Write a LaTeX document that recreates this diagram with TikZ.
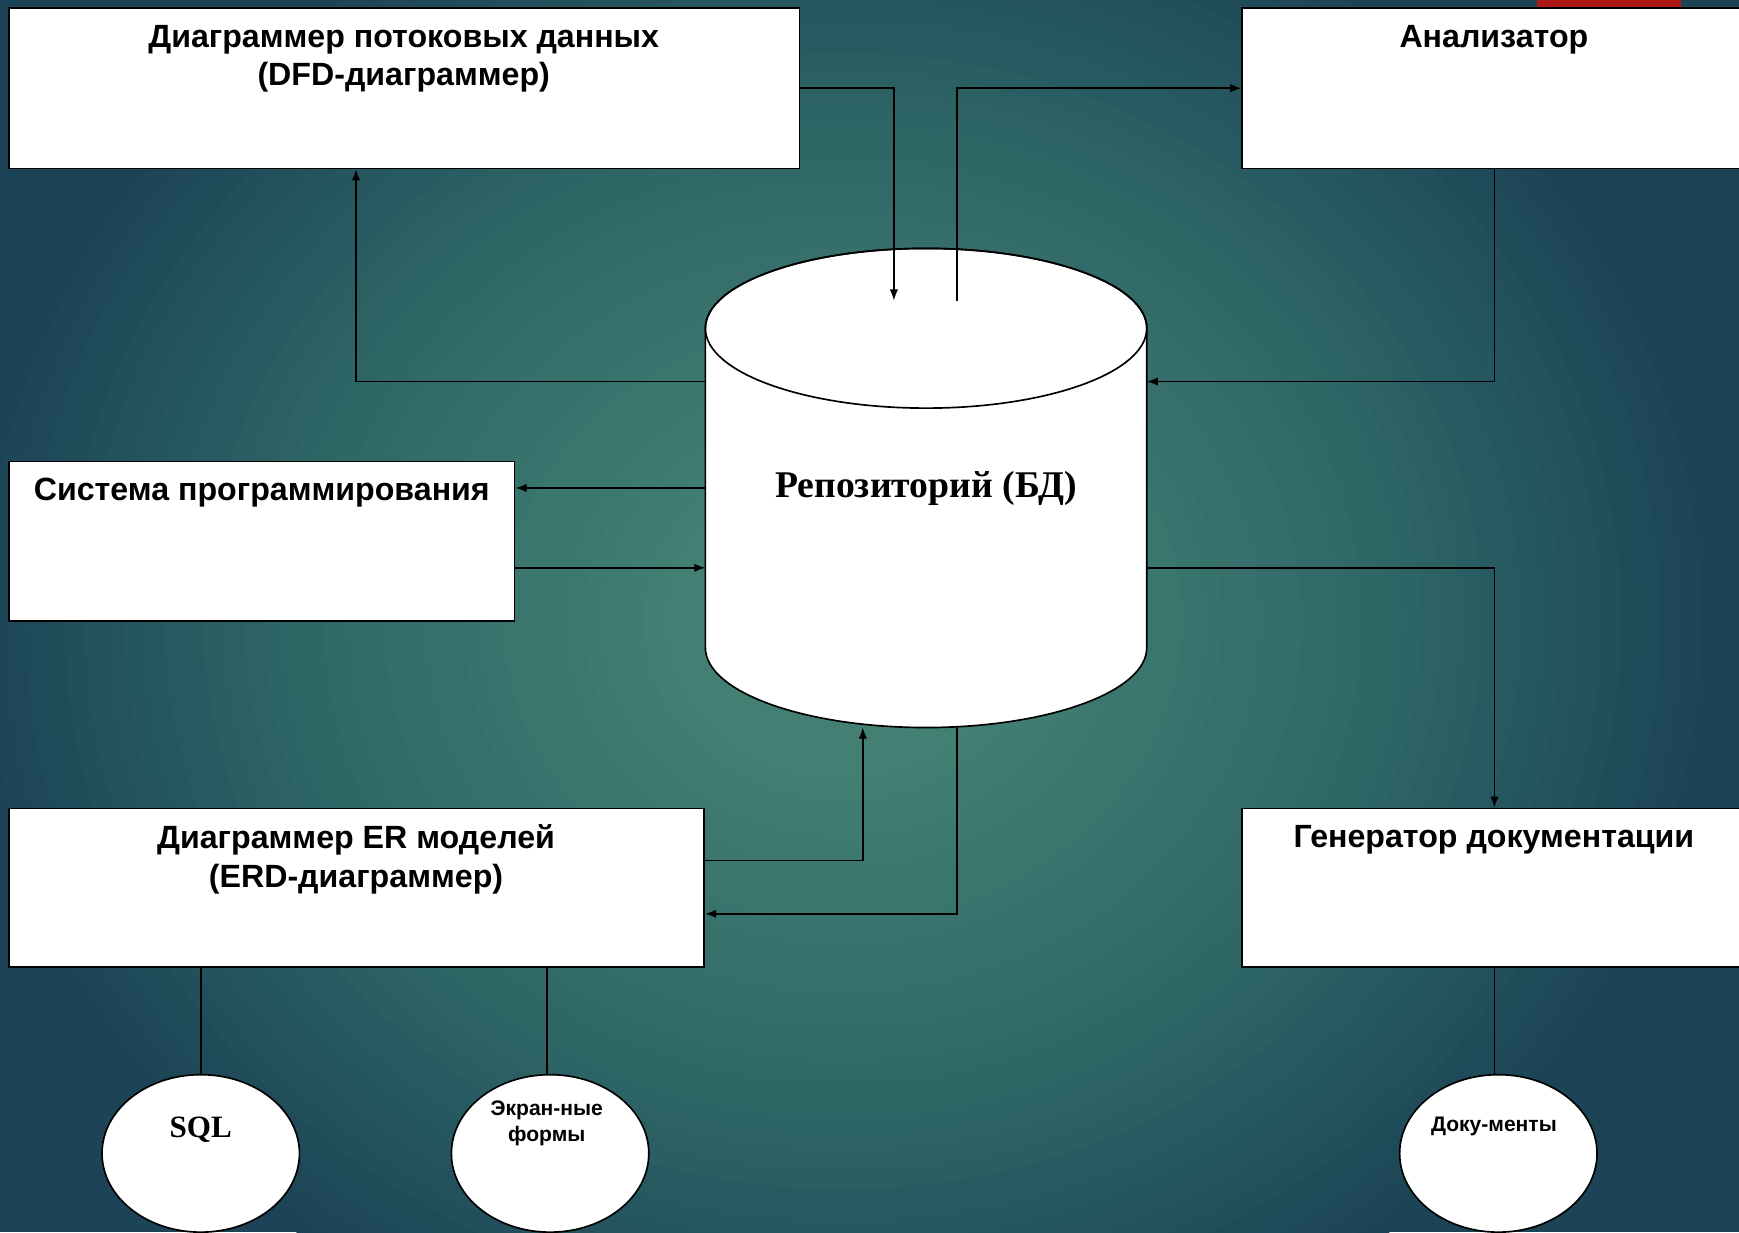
\documentclass[tikz,border=0pt]{standalone}
\usepackage{fontspec}
\setmainfont{Liberation Sans}
\newfontfamily\serifb{Liberation Serif}
\usetikzlibrary{arrows.meta,shapes.geometric,calc}
\definecolor{bgin}{HTML}{437F73}
\definecolor{bgmid}{HTML}{2E6666}
\definecolor{bgout}{HTML}{1C4456}
\definecolor{redbar}{HTML}{B01818}
\tikzset{
  box/.style={draw=black, fill=white, line width=0.75pt, inner sep=0pt},
  oval/.style={ellipse, draw=black, fill=white, line width=0.75pt, inner sep=0pt, minimum width=89pt, minimum height=71pt},
  title/.style={font=\bfseries\fontsize{14.5}{17.3}\selectfont, align=center, inner sep=0pt, anchor=north},
  small/.style={font=\bfseries\fontsize{9.5}{11.5}\selectfont, align=center, inner sep=0pt},
  link/.style={line width=0.7pt, draw=black},
  arr/.style={link, -{Latex[length=5pt,width=3.8pt]}},
}
\begin{document}
\begin{tikzpicture}[x=0.5pt, y=-0.5pt]
\useasboundingbox (0,0) rectangle (1568,1111);
\clip (0,0) rectangle (1568,1111);
% background: radial gradient built from concentric ellipses
\fill[bgout] (0,0) rectangle (1568,1111);
\foreach \k in {0,...,16}{
  \pgfmathsetmacro{\rr}{0.88-\k*0.02}
  \pgfmathsetmacro{\pp}{\k/16*100}
  \fill[bgmid!\pp!bgout] (760,560) ellipse[x radius=\rr*450pt, y radius=\rr*400pt];
}
\foreach \k in {1,...,19}{
  \pgfmathsetmacro{\rr}{0.56-\k*0.02}
  \pgfmathsetmacro{\pp}{\k/19*100}
  \fill[bgin!\pp!bgmid] (760,560) ellipse[x radius=\rr*450pt, y radius=\rr*400pt];
}
\fill[redbar] (1386,0) rectangle (1516,6.5);

% boxes
\node[box, minimum width=356.5pt, minimum height=72.5pt] (dfd) at (364.5,79.5) {};
\node[box, minimum width=227.5pt, minimum height=72.5pt] (ana) at (1347.5,79.5) {};
\node[box, minimum width=228pt, minimum height=72pt] (sys) at (236,488) {};
\node[box, minimum width=313.5pt, minimum height=71.5pt] (erd) at (321.5,800.5) {};
\node[box, minimum width=227.5pt, minimum height=71.5pt] (gen) at (1347.5,800.5) {};

\node[title] (dfdt) at (364,22.5) {Диаграммер потоковых данных\\(DFD-диаграммер)};
\node[title] (anat) at (1347,22.5) {Анализатор};
\node[title] (syst) at (236,430.5) {Система программирования};
\node[title] (erdt) at (321,743.5) {Диаграммер ER моделей\\(ERD-диаграммер)};
\node[title] (gent) at (1347,743.5) {Генератор документации};

% cylinder
\filldraw[fill=white, draw=black, line width=0.75pt] (636,296) -- (636,584)
  arc[start angle=180, end angle=360, x radius=99.5pt, y radius=36pt] -- (1034,296)
  arc[start angle=0, end angle=180, x radius=99.5pt, y radius=36pt] -- cycle;
\draw[line width=0.75pt] (835,296) ellipse[x radius=99.5pt, y radius=36pt];
\node[font=\serifb\bfseries\fontsize{17}{20}\selectfont, inner sep=0pt] (repo) at (835,440) {Репозиторий (БД)};

\coordinate (c1) at (806,271);
\coordinate (c2) at (863,271);
\coordinate (cR1) at (1034,344);
\coordinate (cL1) at (636,344);
\coordinate (cL2) at (636,440);
\coordinate (cL3) at (636,512);
\coordinate (cR2) at (1034,512);
\coordinate (cB1) at (778,656);
\coordinate (cB2) at (863,656);

% ovals
\node[oval] (sql) at (181,1040) {};
\node[oval] (scr) at (496,1040) {};
\node[oval] (doc) at (1351,1040) {};
\node[font=\serifb\bfseries\fontsize{14}{17}\selectfont, inner sep=0pt] (sqlt) at (181,1019) {SQL};
\node[small] (scrt) at (493,1013) {Экран-ные\\формы};
\node[small] (doct) at (1347,1016) {Доку-менты};

% connectors
\draw[arr] (dfd.east) -| (c1);
\draw[arr] (c2) |- (ana.west);
\draw[arr] (ana.south) |- (cR1);
\draw[arr] (cL1) -| ([xshift=-21.75pt]dfd.south);
\draw[arr] (cL2) -- (cL2 -| sys.east);
\draw[arr] (cL3 -| sys.east) -- (cL3);
\draw[arr] (cR2) -| (gen.north);
\draw[arr] ([yshift=12.25pt]erd.east) -| (cB1);
\draw[arr] (cB2) |- ([yshift=-11.75pt]erd.east);
\draw[link] (sql.north |- erd.south) -- (sql.north);
\draw[link] (scrt |- erd.south) -- (scrt |- scr.north);
\draw[link] (gen.south) -- (gen.south |- doc.north);
\end{tikzpicture}
\end{document}
